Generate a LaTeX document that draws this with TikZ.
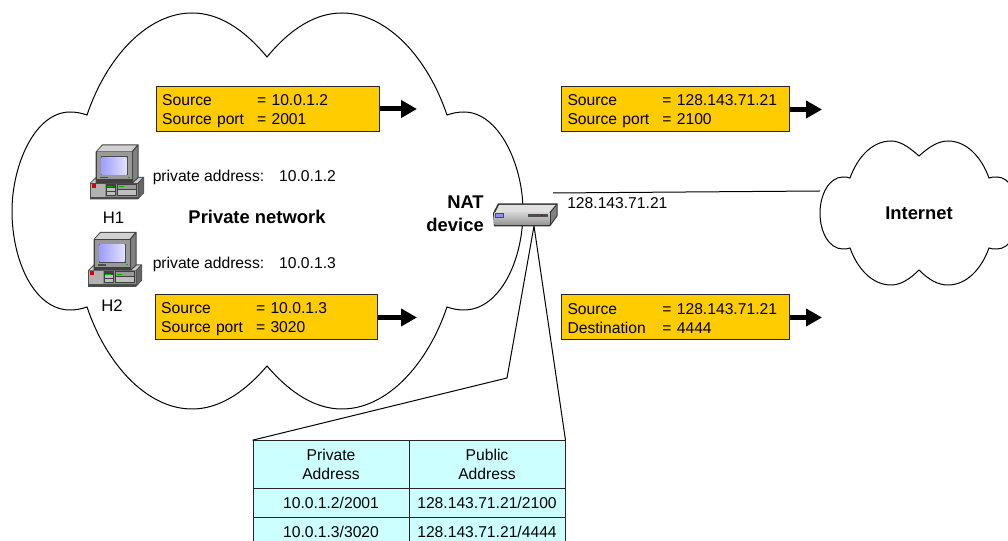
\documentclass[tikz,border=0pt]{standalone}
\usepackage{fontspec}
\setmainfont{Liberation Sans}
\usetikzlibrary{arrows.meta}
\definecolor{pktfill}{HTML}{FFCC00}
\definecolor{tabfill}{HTML}{CCFFFF}
\newlength{\pxu}\setlength{\pxu}{0.75pt}
\newcommand{\pkt}[4]{\rule{0pt}{10.6pt}\makebox[95\pxu][l]{#1}\makebox[0pt][l]{#2}\\\makebox[95\pxu][l]{#3}\makebox[0pt][l]{#4}}
\tikzset{
  cloudline/.style={draw=black,line width=0.75pt,fill=white},
  thin line/.style={draw=black,line width=0.75pt},
  pktbox/.style={draw=black!85,line width=0.75pt,fill=pktfill,inner xsep=4.5pt,inner ysep=0pt,
    minimum height=33.75pt,align=left,font=\fontsize{11.75pt}{14.25pt}\selectfont},
  flow/.style={line width=3.75pt,-{Triangle[length=12pt,width=12.75pt]}},
  plain/.style={inner sep=0pt,font=\fontsize{11.75pt}{14.25pt}\selectfont},
  bold/.style={inner sep=0pt,align=center,font=\fontsize{13.8pt}{17pt}\selectfont\bfseries},
  boldr/.style={inner sep=0pt,align=right,font=\fontsize{13.8pt}{17pt}\selectfont\bfseries},
  cell/.style={draw=black!85,line width=0.75pt,fill=tabfill,inner sep=0pt,align=center,
    font=\fontsize{11.75pt}{14.25pt}\selectfont},
  pics/pcicon/.style={code={
    % base
    \fill[black!70] (90,183) -- (96,177) -- (144,177) -- (144,193) -- (138,199.5) -- (90,199.5) -- cycle;
    \fill[black!20] (91,183) -- (96.5,178) -- (142,178) -- (137.5,183) -- cycle;
    \fill[black!45] (91,184) rectangle (137.5,197);
    \fill[black!30] (91,184) rectangle (105,197);
    \fill[black!60] (138.5,183.5) -- (143.5,178) -- (143.5,192.5) -- (138.5,198) -- cycle;
    \fill[red!85!black] (92,184) rectangle (96,188);
    \fill[black!75] (105.5,184) rectangle (116,196);
    \fill[black!75] (117,184) rectangle (137,196);
    \fill[black!25] (107,188) rectangle (115,191);
    \fill[black!25] (107,192) rectangle (115,195);
    \fill[black!25] (118,190) rectangle (136,195);
    \fill[black!40] (118,185) rectangle (136,189);
    \fill[green!70!black] (119,186.5) rectangle (124,187.5);
    \fill[green!70!black] (107,186.5) rectangle (113,187.5);
    % monitor
    \fill[black!75] (95.5,152) -- (102,144.5) -- (138.5,144.5) -- (138.5,178) -- (133,183) -- (95.5,183) -- cycle;
    \fill[black!18] (97,151.5) -- (102.5,145.5) -- (136.5,145.5) -- (131.5,151.5) -- cycle;
    \fill[black!50] (133,152) -- (137.5,146.5) -- (137.5,177.5) -- (133,181.5) -- cycle;
    \fill[black!40] (96.5,152.5) rectangle (132,179.5);
    \fill[black!70] (100.5,156.5) rectangle (127.5,175.5);
    \shade[left color=blue!38!white,right color=blue!12!white] (101.5,157.5) rectangle (126.5,174.5);
    \fill[green!70!black] (128,177) rectangle (130,178);
    \fill[black!70] (100,177) rectangle (108,178.5);
  }}
}
\begin{document}
\begin{tikzpicture}[x=0.75pt,y=-0.75pt]
\useasboundingbox (0,0) rectangle (1008,541);
\clip (0,0) rectangle (1008,541);
% clouds
\draw[cloudline] (267,57)
  .. controls (243,28) and (218,13) .. (192,13)
  .. controls (148,13) and (107,56) .. (87,115)
  .. controls (81,113) and (76,112) .. (70,112)
  .. controls (35,112) and (12,165) .. (12,211)
  .. controls (12,262) and (35,310) .. (70,310)
  .. controls (76,310) and (81,309) .. (87,307)
  .. controls (107,366) and (148,409) .. (192,409)
  .. controls (218,409) and (243,394) .. (267,366)
  .. controls (291,394) and (316,409) .. (342,409)
  .. controls (386,409) and (427,366) .. (447,307)
  .. controls (453,309) and (458,310) .. (464,310)
  .. controls (499,310) and (523,262) .. (523,211)
  .. controls (523,165) and (499,112) .. (464,112)
  .. controls (458,112) and (453,113) .. (447,115)
  .. controls (427,56) and (386,13) .. (342,13)
  .. controls (316,13) and (291,28) .. (267,57) -- cycle;
\draw[cloudline] (919,156)
  .. controls (909,147) and (900,141) .. (891,141)
  .. controls (873,141) and (858,156) .. (850,178)
  .. controls (848,177) and (845,177) .. (843,177)
  .. controls (829,177) and (820,195) .. (820,213)
  .. controls (820,232) and (829,249) .. (843,249)
  .. controls (845,249) and (848,249) .. (850,248)
  .. controls (858,270) and (873,285) .. (891,285)
  .. controls (900,285) and (909,280) .. (919,270)
  .. controls (929,280) and (938,285) .. (948,285)
  .. controls (966,285) and (981,270) .. (989,248)
  .. controls (991,249) and (994,249) .. (997,249)
  .. controls (1010,249) and (1019,232) .. (1019,213)
  .. controls (1019,195) and (1010,177) .. (997,177)
  .. controls (994,177) and (991,177) .. (989,178)
  .. controls (981,156) and (966,141) .. (948,141)
  .. controls (938,141) and (929,147) .. (919,156) -- cycle;
% table
\node[cell,minimum width=117pt,minimum height=36pt] (pa) at (331,464.7) {Private\\Address};
\node[cell,minimum width=117pt,minimum height=36pt] (pu) at (487,464.7) {Public\\Address};
\node[cell,minimum width=117pt,minimum height=21.75pt] (a1) at (331,503.2) {10.0.1.2/2001};
\node[cell,minimum width=117pt,minimum height=21.75pt] (u1) at (487,503.2) {128.143.71.21/2100};
\node[cell,minimum width=117pt,minimum height=21.75pt] (a2) at (331,532.2) {10.0.1.3/3020};
\node[cell,minimum width=117pt,minimum height=21.75pt] (u2) at (487,532.2) {128.143.71.21/4444};
% connectors
\coordinate (natfoot) at (534,226);
\coordinate (wedgeknee) at (507,378);
\coordinate (natlinkstart) at (553,193);
\coordinate (inetedge) at (820,191);
\draw[thin line] (pa.north west) -- (wedgeknee) -- (natfoot) -- (pu.north east);
\draw[thin line] (natlinkstart) -- (inetedge);
% NAT device
\fill[black!80] (493,213) -- (498,203.5) -- (557.5,203.5) -- (557.5,216) -- (550,226.5) -- (494,226.5) -- cycle;
\fill[black!12] (495.5,212) -- (499,205) -- (555.5,205) -- (549.5,212) -- cycle;
\shade[top color=black!18,bottom color=black!42] (494.5,213) rectangle (549.5,225);
\fill[black!50] (551,212.5) -- (556.5,205.5) -- (556.5,215.5) -- (551,223.5) -- cycle;
\fill[blue!45!white,draw=black!70,line width=0.4pt] (495.5,213.5) rectangle (503,217);
\fill[black!70] (528,214.5) rectangle (548,217);
\fill[red!70!black] (541,214.8) rectangle (542.5,216);
% packet boxes
\node[pktbox,text width=158.7pt] (p1) at (268,109.5) {\pkt{Source}{= 10.0.1.2}{Source port}{= 2001}};
\node[pktbox,text width=158pt] (p2) at (266.5,317.5) {\pkt{Source}{= 10.0.1.3}{Source port}{= 3020}};
\node[pktbox,text width=162pt] (p3) at (675.5,109.5) {\pkt{Source}{= 128.143.71.21}{Source port}{= 2100}};
\node[pktbox,text width=162pt] (p4) at (675.5,317.5) {\pkt{Source}{= 128.143.71.21}{Destination}{= 4444}};
\coordinate (e1) at (417,109);
\coordinate (e2) at (417,317.5);
\coordinate (e3) at (822,109.5);
\coordinate (e4) at (822,317.5);
\draw[flow] (p1.east |- e1) -- (e1);
\draw[flow] (p2.east |- e2) -- (e2);
\draw[flow] (p3.east |- e3) -- (e3);
\draw[flow] (p4.east |- e4) -- (e4);
% computers
\pic {pcicon};
\pic at (-2,87.5) {pcicon};
% labels
\node[plain,anchor=base] (h1) at (113.5,224) {\fontsize{12.5pt}{14pt}\selectfont H1};
\node[plain,anchor=base] (h2) at (112,312) {\fontsize{12.5pt}{14pt}\selectfont H2};
\node[plain,anchor=base west] (ad1) at (152.5,182) {private address:\hspace{11.25pt}10.0.1.2};
\node[plain,anchor=base west] (ad2) at (152.5,268.5) {private address:\hspace{11.25pt}10.0.1.3};
\node[bold,anchor=base] (pn) at (257,224) {Private network};
\node[boldr,anchor=east] (nat) at (484,214) {NAT\\device};
\node[bold,anchor=base] (inet) at (919,219.5) {Internet};
\node[plain,anchor=base west] (pubip) at (567,208.5) {128.143.71.21};
\end{tikzpicture}
\end{document}
